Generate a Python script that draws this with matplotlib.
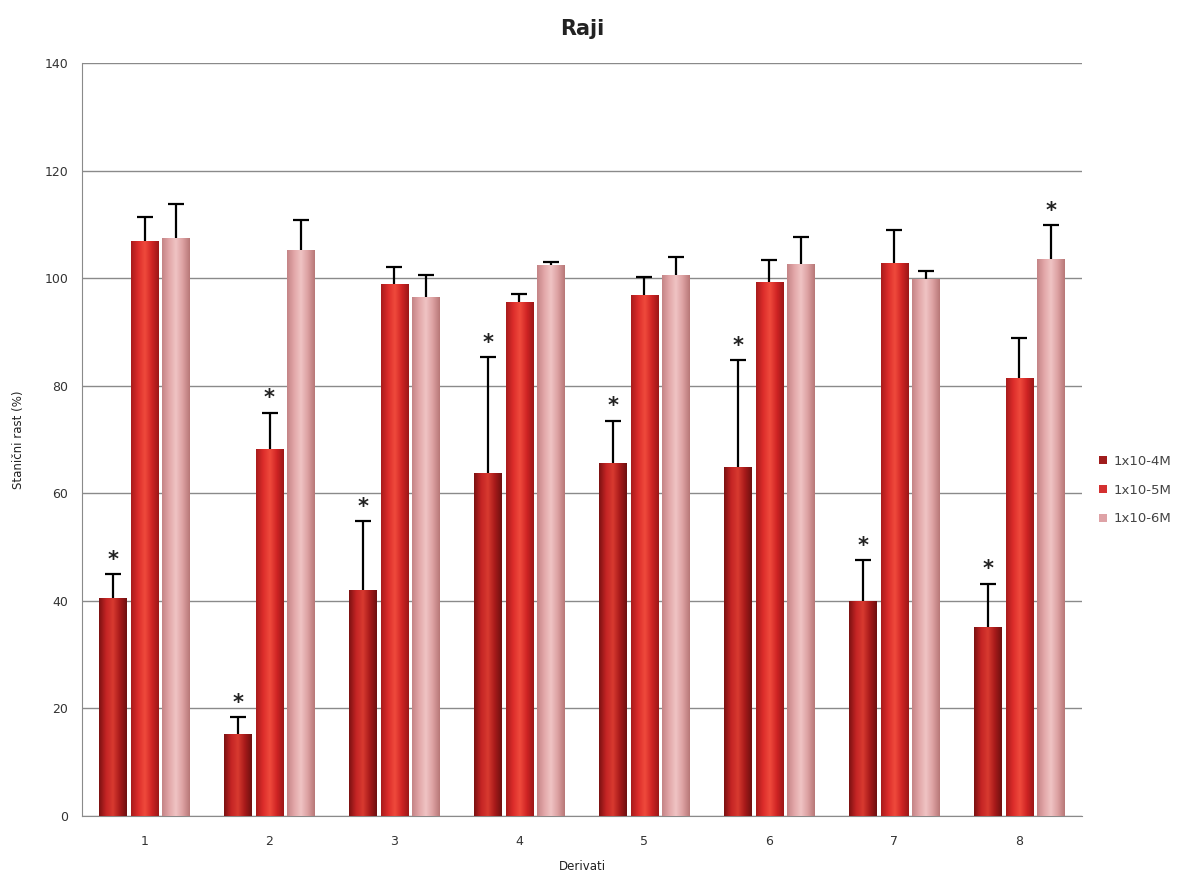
import numpy as np
import matplotlib
matplotlib.use("Agg")
import matplotlib.pyplot as plt
from matplotlib.colors import LinearSegmentedColormap
from matplotlib.patches import Patch

# Data
derivati = ["1", "2", "3", "4", "5", "6", "7", "8"]
series = ["1x10-4M", "1x10-5M", "1x10-6M"]
vals_4 = [40.5, 15.2, 42.0, 63.8, 65.6, 64.8, 40.0, 35.2]
vals_5 = [106.9, 68.3, 99.0, 95.5, 96.9, 99.3, 102.8, 81.5]
vals_6 = [107.5, 105.3, 96.5, 102.4, 100.6, 102.7, 99.9, 103.5]
err_4 = [4.5, 3.2, 12.8, 21.5, 7.9, 19.9, 7.6, 8.0]
err_5 = [4.4, 6.7, 3.0, 1.6, 3.4, 4.1, 6.2, 7.3]
err_6 = [6.3, 5.5, 4.0, 0.6, 3.4, 4.9, 1.4, 6.3]
star_4 = [True] * 8
star_5 = [False, True, False, False, False, False, False, False]
star_6 = [False, False, False, False, False, False, False, True]

# edge -> centre -> edge shading, cylinder look
shades = [
    ["#7c1212", "#c42424", "#d83a30", "#a81a1a", "#6e1010"],
    ["#a81c1c", "#dc2c2a", "#ef4a3c", "#d02424", "#9c1818"],
    ["#c48486", "#e2a6a8", "#f0c4c4", "#dca0a2", "#b87878"],
]
legend_cols = ["#a01c1c", "#d43030", "#dea2a6"]

values = [vals_4, vals_5, vals_6]
errors = [err_4, err_5, err_6]
stars = [star_4, star_5, star_6]
offsets = [-0.255, 0.0, 0.25]
width = 0.22

fig = plt.figure(figsize=(11.92, 8.8), dpi=100)
ax = fig.add_axes([0.0688, 0.0727, 0.8389, 0.8557])

x = np.arange(1, len(derivati) + 1)
grad = np.linspace(0, 1, 64).reshape(1, -1)

for k in range(3):
    cmap = LinearSegmentedColormap.from_list("s%d" % k, shades[k])
    bars = ax.bar(x + offsets[k], values[k], width, color="none",
                  edgecolor="none", zorder=3)
    for b in bars:
        im = ax.imshow(grad, cmap=cmap, aspect="auto", zorder=3,
                       extent=[b.get_x(), b.get_x() + b.get_width(),
                               0, b.get_height()])
        im.set_clip_path(b)
    eb = ax.errorbar(x + offsets[k], values[k],
                     yerr=[np.zeros(len(x)), errors[k]],
                     fmt="none", ecolor="black", elinewidth=1.6,
                     capsize=6, capthick=1.6, zorder=4)
    eb[1][0].set_visible(False)  # no cap at the bar top
    for xi, v, e, s in zip(x + offsets[k], values[k], errors[k], stars[k]):
        if s:
            ax.text(xi, v + e + 0.8, "*", ha="center", va="bottom",
                    fontsize=15, fontweight="bold", color="#222222", zorder=5)

ax.set_xlim(0.5, 8.5)
ax.set_ylim(0, 140)
ax.set_yticks(range(0, 141, 20))
ax.set_xticks(x)
ax.set_xticklabels(derivati)
ax.yaxis.grid(True, color="#8a8a8a", linewidth=1.0, zorder=0)
ax.set_axisbelow(True)
for side in ["top", "right"]:
    ax.spines[side].set_visible(False)
for side in ["left", "bottom"]:
    ax.spines[side].set_color("#8a8a8a")
ax.tick_params(axis="x", length=0, pad=14, labelsize=9, colors="#333333")
ax.tick_params(axis="y", length=0, labelsize=9, labelcolor="#333333", pad=10)

ax.set_title("Raji", fontsize=15, fontweight="bold", pad=20, color="#222222")
ax.set_xlabel("Derivati", fontsize=8.5, color="#222222")
ax.xaxis.set_label_coords(0.5, -0.058)
ax.set_ylabel("Stanični rast (%)", fontsize=8.5, labelpad=14, color="#222222")

handles = [Patch(facecolor=c, edgecolor="none") for c in legend_cols]
fig.legend(handles, series, loc="center left", bbox_to_anchor=(0.912, 0.443),
           frameon=False, fontsize=9.5, handlelength=0.6, handleheight=0.6,
           labelspacing=1.2, handletextpad=0.5, labelcolor="#444444")

fig.savefig("out.png", dpi=100, facecolor="white")
